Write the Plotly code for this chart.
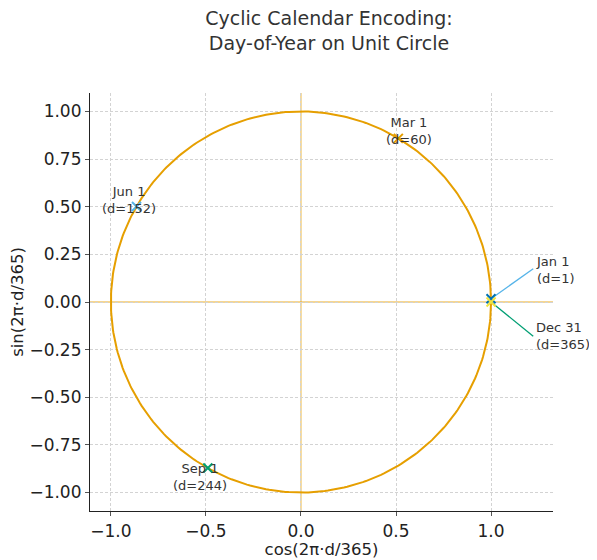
import numpy as np
import plotly.graph_objects as go

# ---- data ----
days = [1, 60, 152, 244, 365]
labels = ["Jan 1", "Mar 1", "Jun 1", "Sep 1", "Dec 31"]
marker_colors = ["#0072B2", "#E69F00", "#56B4E9", "#009E73", "#F0E442"]
# label anchor positions (annotation placement)
label_x = [1.232, 0.57, -0.905, -0.53, 1.232]
label_y = [0.17, 0.895, 0.537, -0.92, -0.18]
connector_colors = {"Jan 1": "#56B4E9", "Dec 31": "#009E73"}
connector_end_y = {"Jan 1": 0.175, "Dec 31": -0.18}
circle_days = np.arange(0, 366)
period = 365

FONT = "DejaVu Sans, Arial, sans-serif"

theta = 2 * np.pi * circle_days / period
fig = go.Figure()
fig.add_trace(go.Scatter(x=np.cos(theta), y=np.sin(theta), mode="lines",
                         line=dict(color="#E69F00", width=2), showlegend=False,
                         hoverinfo="skip"))

px_ = [np.cos(2 * np.pi * d / period) for d in days]
py_ = [np.sin(2 * np.pi * d / period) for d in days]

annotations = []
for i, lab in enumerate(labels):
    if lab in connector_colors:
        fig.add_trace(go.Scatter(x=[px_[i], 1.222], y=[py_[i], connector_end_y[lab]],
                                 mode="lines", line=dict(color=connector_colors[lab], width=1.3),
                                 showlegend=False, hoverinfo="skip"))
for i, lab in enumerate(labels):
    fig.add_trace(go.Scatter(x=[px_[i]], y=[py_[i]], mode="markers",
                             marker=dict(symbol="x-thin", size=9,
                                         line=dict(color=marker_colors[i], width=2)),
                             showlegend=False))
    side = lab in connector_colors
    annotations.append(dict(x=label_x[i], y=label_y[i], xref="x", yref="y",
                            text=f"{lab}<br>(d={days[i]})", showarrow=False,
                            xanchor="left" if side else "center",
                            align="left" if side else "center",
                            yanchor="middle", borderpad=0,
                            font=dict(family=FONT, size=13, color="#333333")))

W, H = 589, 552
fig.update_layout(
    width=W, height=H,
    margin=dict(l=82, r=44, t=85, b=49),
    paper_bgcolor="white", plot_bgcolor="white",
    title=dict(text="Cyclic Calendar Encoding:<br>Day-of-Year on Unit Circle",
               x=0.545, xanchor="center", y=1 - 17 / H, yanchor="top",
               font=dict(family=FONT, size=19, color="#333333")),
    font=dict(family=FONT, color="#333333"),
    annotations=annotations,
    shapes=[
        dict(type="line", xref="x", yref="paper", x0=0, x1=0, y0=0, y1=1,
             line=dict(color="rgba(230,159,0,0.5)", width=1.5), layer="below"),
        dict(type="line", xref="paper", yref="y", x0=0, x1=1, y0=0, y1=0,
             line=dict(color="rgba(230,159,0,0.85)", width=1), layer="below"),
    ],
)
axis_common = dict(showgrid=True, gridcolor="#d3d3d3", griddash="3px,2px", gridwidth=0.8,
                   zeroline=False, showline=True, linecolor="#222222", linewidth=1.2,
                   ticks="outside", ticklen=4, tickcolor="#555555", automargin=False,
                   tickfont=dict(family=FONT, size=17, color="#222222"))
fig.update_xaxes(range=[-1.11, 1.326], tickvals=[-1, -0.5, 0, 0.5, 1], tickformat=".1f",
                 title=dict(text="cos(2π·d/365)", font=dict(family=FONT, size=16.5, color="#222222"),
                            standoff=2), **axis_common)
fig.update_yaxes(range=[-1.097, 1.097], tickvals=[-1, -0.75, -0.5, -0.25, 0, 0.25, 0.5, 0.75, 1],
                 tickformat=".2f",
                 title=dict(text="sin(2π·d/365)", font=dict(family=FONT, size=16.5, color="#222222"),
                            standoff=4), **axis_common)

fig.write_html("out.html")
